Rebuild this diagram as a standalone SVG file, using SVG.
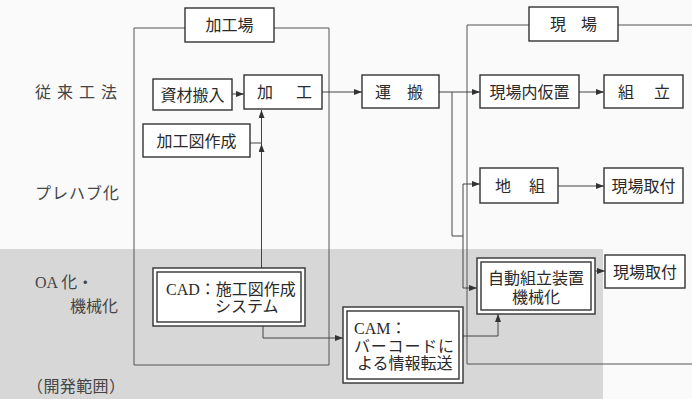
<svg xmlns="http://www.w3.org/2000/svg" width="692" height="399" viewBox="0 0 692 399">
<style>
.t{font-family:"Liberation Serif","Noto Sans CJK JP",serif;font-size:16px;fill:#2a2a2a}
.s{font-family:"Liberation Serif","Noto Sans CJK JP",serif;font-size:16px;fill:#444}
.m{text-anchor:middle}
.b{fill:#fff;stroke:#333;stroke-width:1.4}
.ln{fill:none;stroke:#444;stroke-width:1}
.fr{fill:none;stroke:#555;stroke-width:1}
</style>
<defs>
<marker id="a" viewBox="0 0 8 6" refX="8" refY="3" markerWidth="8" markerHeight="6" markerUnits="userSpaceOnUse" orient="auto">
<path d="M0,0 L8,3 L0,6 Z" fill="#333"/>
</marker>
</defs>
<rect x="0" y="0" width="692" height="399" fill="#fafafa"/>
<rect x="0" y="249" width="603" height="150" fill="#d7d7d7"/>

<g id="labels">
<text class="s" x="35 57 79 101" y="98">従来工法</text>
<text class="s" x="35" y="198.5" textLength="84" lengthAdjust="spacing">プレハブ化</text>
<text class="s" x="35" y="288">OA 化・</text>
<text class="s" x="70" y="312">機械化</text>
<text class="s" x="27" y="392" textLength="98" lengthAdjust="spacing">（開発範囲）</text>
</g>

<g id="frames">
<path class="fr" d="M185,28 H134 V365 H329 V28 H274"/>
<path class="fr" d="M529,25 H467 V364 H692 M618,25 H692"/>
</g>

<g id="connectors">
<line class="ln" x1="232" y1="94" x2="244" y2="94" marker-end="url(#a)"/>
<line class="ln" x1="322" y1="92" x2="362" y2="92" marker-end="url(#a)"/>
<line class="ln" x1="250" y1="143" x2="261.5" y2="143"/>
<line class="ln" x1="261.5" y1="268" x2="261.5" y2="144" marker-end="url(#a)"/>
<line class="ln" x1="261.5" y1="144" x2="261.5" y2="110" marker-end="url(#a)"/>
<line class="ln" x1="439" y1="92" x2="480" y2="92" marker-end="url(#a)"/>
<path class="ln" d="M452,92 V236 H463"/>
<path class="ln" d="M463,184 V288"/>
<line class="ln" x1="463" y1="184" x2="480" y2="184" marker-end="url(#a)"/>
<line class="ln" x1="463" y1="288" x2="477" y2="288" marker-end="url(#a)"/>
<line class="ln" x1="579" y1="92" x2="604" y2="92" marker-end="url(#a)"/>
<line class="ln" x1="558" y1="186" x2="604" y2="186" marker-end="url(#a)"/>
<line class="ln" x1="595" y1="271" x2="605" y2="271" marker-end="url(#a)"/>
<path class="ln" d="M263,326 V338 H343" marker-end="url(#a)"/>
<path class="ln" d="M463,336 H498 V314" marker-end="url(#a)"/>
</g>

<g id="n-kakoujou">
<rect class="b" x="185" y="8" width="89" height="34"/>
<text class="t m" x="229.5" y="31">加工場</text>
</g>
<g id="n-genba">
<rect class="b" x="529" y="7" width="89" height="34"/>
<text class="t" x="550 581" y="30">現場</text>
</g>
<g id="n-shizai">
<rect class="b" x="153" y="79" width="79" height="31"/>
<text class="t m" x="192.5" y="100.5">資材搬入</text>
</g>
<g id="n-kakou">
<rect class="b" x="244" y="75" width="78" height="34"/>
<text class="t" x="257 296" y="98">加工</text>
</g>
<g id="n-kakouzu">
<rect class="b" x="143" y="124" width="107" height="33"/>
<text class="t m" x="196.5" y="146.5">加工図作成</text>
</g>
<g id="n-unpan">
<rect class="b" x="362" y="75" width="77" height="33"/>
<text class="t" x="375 407" y="97.5">運搬</text>
</g>
<g id="n-karioki">
<rect class="b" x="480" y="75" width="99" height="33"/>
<text class="t m" x="529.5" y="97.5">現場内仮置</text>
</g>
<g id="n-kumitate">
<rect class="b" x="604" y="75" width="79" height="33"/>
<text class="t" x="618 654" y="97.5">組立</text>
</g>
<g id="n-jigumi">
<rect class="b" x="480" y="168" width="78" height="35"/>
<text class="t" x="495 529" y="191.5">地組</text>
</g>
<g id="n-toritsuke1">
<rect class="b" x="604" y="168" width="79" height="35"/>
<text class="t m" x="643.5" y="191.5">現場取付</text>
</g>
<g id="n-cad">
<rect class="b" x="153" y="268" width="152" height="58"/>
<rect class="b" x="157" y="272" width="144" height="50"/>
<text class="t" x="166" y="294.5">CAD：施工図作成</text>
<text class="t" x="215" y="311.5">システム</text>
</g>
<g id="n-cam">
<rect class="b" x="343" y="307" width="120" height="76"/>
<rect class="b" x="347" y="311" width="112" height="68"/>
<text class="t" x="354" y="334">CAM：</text>
<text class="t" x="354" y="351.5" textLength="100" lengthAdjust="spacing">バーコードに</text>
<text class="t" x="357" y="369">よる情報転送</text>
</g>
<g id="n-jidou">
<rect class="b" x="477" y="258" width="118" height="56"/>
<rect class="b" x="481" y="262" width="110" height="48"/>
<text class="t m" x="536" y="284">自動組立装置</text>
<text class="t m" x="536" y="303">機械化</text>
</g>
<g id="n-toritsuke2">
<rect class="b" x="605" y="255" width="80" height="33"/>
<text class="t m" x="645" y="277.5">現場取付</text>
</g>
</svg>
